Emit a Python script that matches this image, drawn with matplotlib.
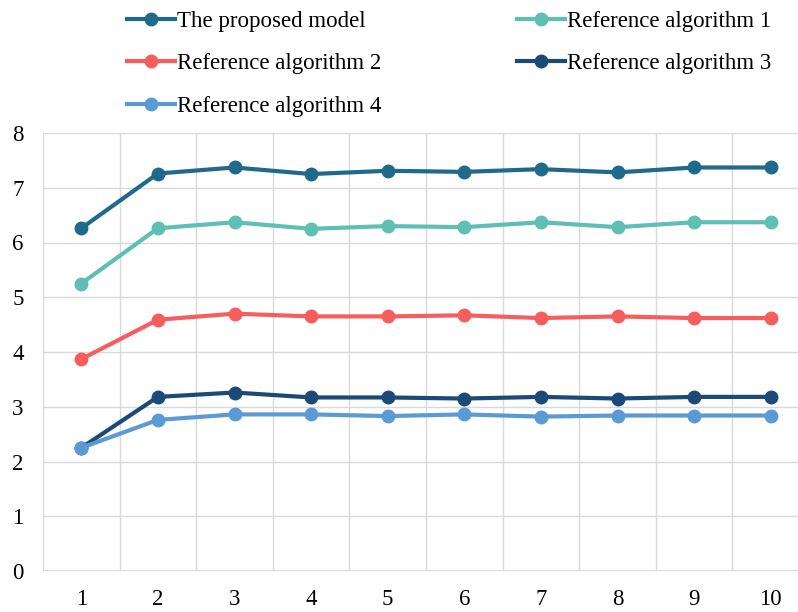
import matplotlib
matplotlib.use("Agg")
import matplotlib.pyplot as plt
import numpy as np

x_labels = ["1", "2", "3", "4", "5", "6", "7", "8", "9", "10"]
proposed = [6.26, 7.26, 7.37, 7.25, 7.31, 7.29, 7.34, 7.28, 7.37, 7.37]
ref1 = [5.25, 6.26, 6.37, 6.25, 6.30, 6.28, 6.37, 6.28, 6.37, 6.37]
ref2 = [3.87, 4.59, 4.70, 4.65, 4.65, 4.67, 4.62, 4.65, 4.62, 4.62]
ref3 = [2.25, 3.18, 3.26, 3.17, 3.17, 3.15, 3.18, 3.15, 3.18, 3.18]
ref4 = [2.25, 2.76, 2.86, 2.86, 2.83, 2.86, 2.82, 2.84, 2.84, 2.84]

names = ["The proposed model", "Reference algorithm 1", "Reference algorithm 2",
         "Reference algorithm 3", "Reference algorithm 4"]
series = [proposed, ref1, ref2, ref3, ref4]
colors = ["#1f6a8a", "#5fbfb3", "#f65e5e", "#1b4a78", "#5b9bd5"]

plt.rcParams['font.family'] = ['Liberation Serif', 'DejaVu Serif']

fig = plt.figure(figsize=(7.98, 6.12), dpi=100)
ax = fig.add_axes([43/798, 41/612, 766/798, 438/612])

x = np.arange(1, len(x_labels) + 1)
handles = []
for name, vals, c in zip(names, series, colors):
    h, = ax.plot(x, vals, color=c, lw=3.0, marker='o', ms=9, label=name,
                 solid_joinstyle='round', zorder=3, clip_on=False)
    handles.append(h)

ax.set_xlim(0.5, 10.5)
ax.set_ylim(0, 8)
ax.set_yticks(range(0, 9))
ax.set_xticks(x)
ax.set_xticklabels(x_labels)
for b in np.arange(0.5, 11, 1.0):
    ax.axvline(b, color="#d9d9d9", lw=1.0, zorder=1)
for yv in range(1, 9):
    ax.axhline(yv, color="#d9d9d9", lw=1.0, zorder=1)
ax.axhline(0, color="#d0d0d0", lw=1.2, zorder=1)
for s in ax.spines.values():
    s.set_visible(False)
ax.tick_params(length=0, labelsize=16.5, colors="#000000")
ax.tick_params(axis='y', pad=14)
ax.tick_params(axis='x', pad=13)

# row-major order in the reference legend -> column-major order for matplotlib
order = [0, 2, 4, 1, 3]
fig.legend(handles=[handles[i] for i in order], labels=[names[i] for i in order],
           loc='upper left', bbox_to_anchor=(122/798, 1.0 - 6/612), ncol=2,
           frameon=False, fontsize=16.5, handlelength=2.1, handletextpad=0.1,
           columnspacing=5.9, labelspacing=0.95, borderaxespad=0, borderpad=0.2)

fig.savefig("out.png", dpi=100)
